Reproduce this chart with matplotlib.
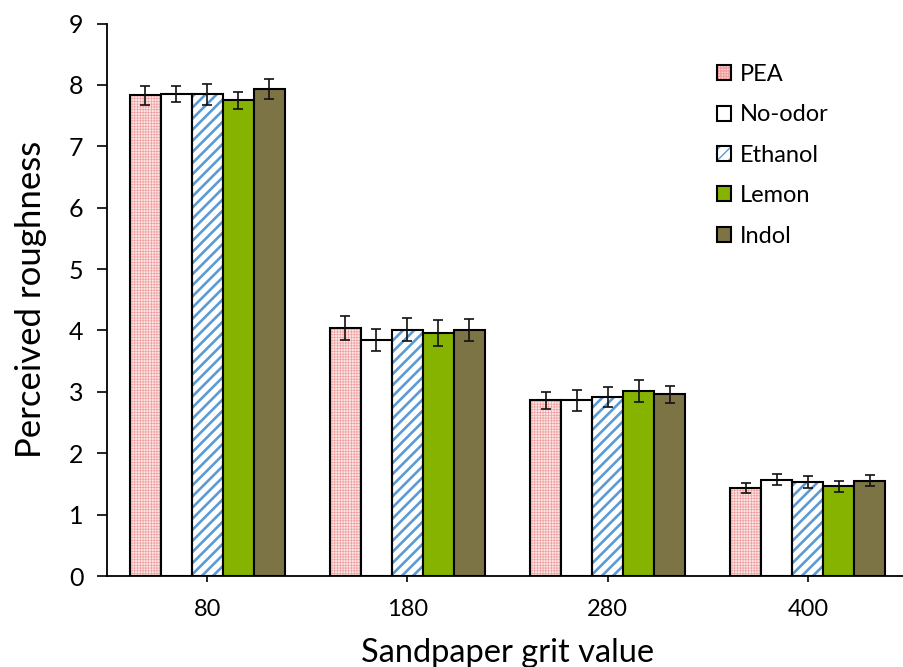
import matplotlib.pyplot as plt
import numpy as np
from matplotlib.legend_handler import HandlerTuple

plt.rcParams['font.family'] = ['Lato', 'DejaVu Sans']

# mean perceived roughness per odor condition, one value per grit
grits = ['80', '180', '280', '400']
odors = ['PEA', 'No-odor', 'Ethanol', 'Lemon', 'Indol']
pea = [7.83, 4.04, 2.86, 1.43]
no_odor = [7.85, 3.84, 2.86, 1.57]
ethanol = [7.85, 4.01, 2.92, 1.53]
lemon = [7.75, 3.96, 3.01, 1.46]
indol = [7.93, 4.01, 2.96, 1.55]

# standard errors
pea_err = [0.15, 0.20, 0.14, 0.085]
no_odor_err = [0.135, 0.18, 0.17, 0.095]
ethanol_err = [0.17, 0.19, 0.16, 0.10]
lemon_err = [0.135, 0.21, 0.18, 0.09]
indol_err = [0.16, 0.18, 0.14, 0.09]

means = [pea, no_odor, ethanol, lemon, indol]
errs = [pea_err, no_odor_err, ethanol_err, lemon_err, indol_err]

# fill colour, hatch, hatch colour, hatch line width
styles = [
    ('#fce6e6', '++++++', '#f0a0a0', 0.5),
    ('white', '', None, 1.0),
    ('white', '///', '#5b9bd5', 1.9),
    ('#86b300', '', None, 1.0),
    ('#7d7446', '', None, 1.0),
]

fig = plt.figure(figsize=(9.04, 6.67), dpi=100)
ax = fig.add_axes([107 / 904, 1 - 576 / 667, 801 / 904, (576 - 23.5) / 667])

x = np.arange(len(grits))
width = 0.155
handles = []
for i, (name, vals, err, st) in enumerate(zip(odors, means, errs, styles)):
    face, hatch, hcol, hlw = st
    pos = x + (i - 2) * width
    parts = []
    if hatch:
        with plt.rc_context({'hatch.linewidth': hlw}):
            hb = ax.bar(pos, vals, width, color=face, edgecolor=hcol,
                        hatch=hatch, linewidth=0, zorder=2)
        parts.append(hb[0])
        face = 'none'
    eb = ax.bar(pos, vals, width, color=face, edgecolor='black',
                linewidth=1.5, zorder=3)
    parts.append(eb[0])
    ax.errorbar(pos, vals, yerr=err, fmt='none', ecolor='#111111',
                elinewidth=1.2, capsize=3.5, capthick=1.2, zorder=4)
    handles.append(tuple(parts))

ax.set_xlim(-0.5, 3.5)
ax.set_ylim(0, 9)
ax.set_yticks(range(0, 10))
ax.set_xticks(x)
ax.set_xticklabels(grits)
ax.tick_params(axis='y', labelsize=18, length=7, width=1.2, direction='out', pad=10)
ax.tick_params(axis='x', labelsize=17, length=4.5, width=1.2, direction='out', pad=12)
for s in ['top', 'right']:
    ax.spines[s].set_visible(False)
for s in ['left', 'bottom']:
    ax.spines[s].set_linewidth(1.3)

ax.set_xlabel('Sandpaper grit value', fontsize=23.5, labelpad=13)
ax.set_ylabel('Perceived roughness', fontsize=25, labelpad=16)

ax.legend(handles, odors, handler_map={tuple: HandlerTuple(ndivide=1, pad=0)},
          loc='upper left', bbox_to_anchor=(0.735, 0.965), frameon=False,
          fontsize=17, handlelength=0.6, handleheight=0.6,
          handletextpad=0.35, labelspacing=0.82)

fig.savefig('out.png', dpi=100)
